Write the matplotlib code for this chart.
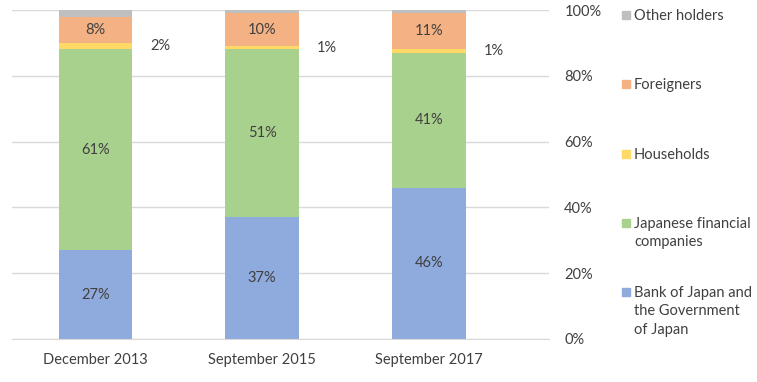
import matplotlib.pyplot as plt
from matplotlib.patches import Rectangle
from matplotlib.ticker import PercentFormatter

plt.rcParams['font.family'] = ['Lato', 'DejaVu Sans']

# data (percent of JGB holdings)
periods = ['December 2013', 'September 2015', 'September 2017']
boj = [27, 37, 46]
jfc = [61, 51, 41]
households = [2, 1, 1]
foreigners = [8, 10, 11]
others = [2, 1, 1]

series = [boj, jfc, households, foreigners, others]
names = ['Bank of Japan and\nthe Government\nof Japan', 'Japanese financial\ncompanies',
         'Households', 'Foreigners', 'Other holders']
colors = ['#8FAADC', '#A9D18E', '#FFD966', '#F4B183', '#BFBFBF']
txt = '#404040'

fig = plt.figure(figsize=(7.57, 3.82), dpi=100)
ax = fig.add_axes([12/757, 1-339/382, (549-12)/757, (339-10)/382])

x = range(len(periods))
bottom = [0, 0, 0]
for i, vals in enumerate(series):
    ax.bar(x, vals, bottom=bottom, width=0.44, color=colors[i], zorder=2)
    for j, v in enumerate(vals):
        yc = bottom[j] + v / 2
        if i in (0, 1, 3):
            ax.text(j, yc, f'{v}%', ha='center', va='center', fontsize=10.5, color=txt)
        elif i == 2:
            # households label sits to the right of the bar
            ax.text(j + 0.33, yc, f'{v}%', ha='left', va='center', fontsize=10.5, color=txt)
    bottom = [b + v for b, v in zip(bottom, vals)]

ax.set_xlim(-0.5, 2.72)
ax.set_ylim(0, 100)
ax.set_yticks([0, 20, 40, 60, 80, 100])
ax.yaxis.set_major_formatter(PercentFormatter(decimals=0))
ax.yaxis.tick_right()
ax.tick_params(axis='y', length=0, pad=11, labelsize=10.5, labelcolor=txt)
ax.set_xticks(list(x))
ax.set_xticklabels(periods)
ax.tick_params(axis='x', length=0, pad=10, labelsize=10.5, labelcolor=txt)
for lab in ax.get_yticklabels():
    lab.set_ha('left')
ax.grid(axis='y', color='#D9D9D9', linewidth=1, zorder=0)
for s in ['top', 'left', 'right']:
    ax.spines[s].set_visible(False)
ax.spines['bottom'].set_color('#D9D9D9')

# legend on the right, top to bottom (pixel y of first line)
ys = [15, 84, 154, 223, 292]
for y, idx in zip(ys, [4, 3, 2, 1, 0]):
    fig.patches.append(Rectangle((622/757, 1-(y+4)/382), 8/757, 8/382,
                                 transform=fig.transFigure, color=colors[idx]))
    fig.text(634/757, 1-(y-6)/382, names[idx], ha='left', va='top',
             fontsize=10.5, color=txt, linespacing=1.4)

fig.savefig('out.png', dpi=100)
